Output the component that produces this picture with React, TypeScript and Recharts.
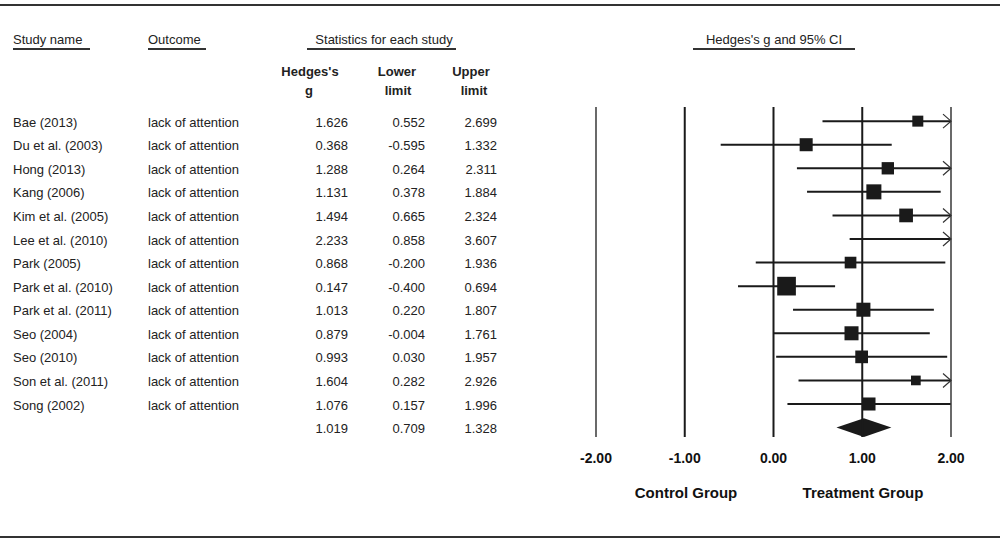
import React from "react";
import {
  ComposedChart,
  Scatter,
  XAxis,
  YAxis,
  ZAxis,
  ErrorBar,
  ReferenceLine,
  ReferenceArea,
} from "recharts";

const studyNames = [
  "Bae (2013)",
  "Du et al. (2003)",
  "Hong (2013)",
  "Kang (2006)",
  "Kim et al. (2005)",
  "Lee et al. (2010)",
  "Park (2005)",
  "Park et al. (2010)",
  "Park et al. (2011)",
  "Seo (2004)",
  "Seo (2010)",
  "Son et al. (2011)",
  "Song (2002)",
];
const outcomes = studyNames.map(() => "lack of attention");
const hedgesG = [1.626, 0.368, 1.288, 1.131, 1.494, 2.233, 0.868, 0.147, 1.013, 0.879, 0.993, 1.604, 1.076];
const lowerLimit = [0.552, -0.595, 0.264, 0.378, 0.665, 0.858, -0.2, -0.4, 0.22, -0.004, 0.03, 0.282, 0.157];
const upperLimit = [2.699, 1.332, 2.311, 1.884, 2.324, 3.607, 1.936, 0.694, 1.807, 1.761, 1.957, 2.926, 1.996];
// relative weights (%)
const weights = [5.4, 7.6, 6.8, 10.1, 8.4, 3.6, 6.1, 15.6, 8.8, 8.8, 7.2, 4.2, 7.6];
const summary = { g: 1.019, lower: 0.709, upper: 1.328 };
const xTicks = [-2, -1, 0, 1, 2];

const X_MAX = 2;
const FONT = "'Liberation Sans', Arial, sans-serif";
const INK = "#1a1a1a";

// CI bars stop at the edge of the plot; an arrow marks the ones that go on
const studyData = hedgesG.map((g, i) => ({
  x: g,
  y: i,
  w: weights[i],
  err: [g - lowerLimit[i], Math.min(upperLimit[i], X_MAX) - g],
}));

const arrowData = upperLimit
  .map((hi, i) => ({ x: X_MAX, y: i, hi }))
  .filter((d) => d.hi > X_MAX);

const tableData = [
  ...studyNames.map((name, i) => ({
    x: -2,
    y: i,
    name,
    outcome: outcomes[i],
    g: hedgesG[i],
    lo: lowerLimit[i],
    hi: upperLimit[i],
  })),
  { x: -2, y: studyNames.length, name: "", outcome: "", g: summary.g, lo: summary.lower, hi: summary.upper },
];

const fmt = (v: number) => v.toFixed(3);

const TableRow = (props: any) => {
  const { cy, payload } = props;
  const y = cy + 1;
  const common = { fontFamily: FONT, fontSize: 13, fill: "#222", dy: "0.35em" };
  return (
    <g>
      <text x={13} y={y} {...common}>{payload.name}</text>
      <text x={148} y={y} {...common}>{payload.outcome}</text>
      <text x={348} y={y} textAnchor="end" {...common}>{fmt(payload.g)}</text>
      <text x={425} y={y} textAnchor="end" {...common}>{fmt(payload.lo)}</text>
      <text x={497} y={y} textAnchor="end" {...common}>{fmt(payload.hi)}</text>
    </g>
  );
};

const Chevron = (props: any) => {
  const { cx, cy } = props;
  return (
    <polyline
      points={`${cx - 8},${cy - 7} ${cx},${cy} ${cx - 8},${cy + 7}`}
      fill="none"
      stroke="#333"
      strokeWidth={1.2}
    />
  );
};

const Diamond = (props: any) => {
  const { x, y, width, height } = props;
  const mx = x + width / 2;
  const my = y + height / 2;
  return (
    <polygon
      points={`${x},${my} ${mx},${y} ${x + width},${my} ${mx},${y + height}`}
      fill={INK}
    />
  );
};

const abs = (left: number, top: number, extra: React.CSSProperties = {}): React.CSSProperties => ({
  position: "absolute",
  left,
  top,
  fontFamily: FONT,
  fontSize: 13,
  lineHeight: "16px",
  color: "#222",
  whiteSpace: "nowrap",
  ...extra,
});

const centered = (cx: number, top: number, extra: React.CSSProperties = {}) =>
  abs(cx - 100, top, { width: 200, textAlign: "center", ...extra });

const hLine = (x1: number, x2: number, y: number, w: number, color = "#333"): React.CSSProperties => ({
  position: "absolute",
  left: x1,
  top: y - w / 2,
  width: x2 - x1,
  height: w,
  background: color,
});

export default function App() {
  return (
    <div style={{ position: "absolute", left: 0, top: 0, width: 1004, height: 549, background: "#fff" }}>
      <ComposedChart
        width={1004}
        height={549}
        margin={{ top: 107, right: 53, bottom: 82, left: 596 }}
      >
        <XAxis
          xAxisId="main"
          dataKey="x"
          type="number"
          domain={[-2, X_MAX]}
          ticks={xTicks}
          allowDataOverflow
          axisLine={false}
          tickLine={false}
          tickMargin={10}
          tickFormatter={(v: number) => v.toFixed(2)}
          tick={{ fontFamily: FONT, fontSize: 14, fontWeight: 700, fill: "#111" }}
        />
        <XAxis xAxisId="free" dataKey="x" type="number" domain={[-2, X_MAX]} height={0} hide />
        <YAxis dataKey="y" type="number" domain={[-0.6, 13.4]} reversed hide />
        <ZAxis dataKey="w" type="number" domain={[0, 16]} range={[0, 358]} />

        {xTicks.map((t) => (
          <ReferenceLine
            key={t}
            xAxisId="main"
            x={t}
            stroke={INK}
            strokeWidth={t === -2 || t === 2 ? 1.3 : 2}
          />
        ))}

        <Scatter
          xAxisId="main"
          data={studyData}
          shape="square"
          fill={INK}
          isAnimationActive={false}
        >
          <ErrorBar
            dataKey="err"
            direction="x"
            width={0}
            stroke={INK}
            strokeWidth={2}
            isAnimationActive={false}
          />
        </Scatter>

        <Scatter
          xAxisId="free"
          data={arrowData}
          shape={<Chevron />}
          isAnimationActive={false}
        />

        <ReferenceArea
          xAxisId="main"
          x1={summary.lower}
          x2={summary.upper}
          y1={12.6}
          y2={13.4}
          shape={<Diamond />}
        />

        <Scatter
          xAxisId="free"
          data={tableData}
          shape={<TableRow />}
          isAnimationActive={false}
        />
      </ComposedChart>

      {/* borders */}
      <div style={hLine(0, 1000, 5, 2.5)} />
      <div style={hLine(0, 1000, 537, 2.5)} />

      {/* column headers */}
      <div style={abs(13, 32)}>Study name</div>
      <div style={hLine(13, 90, 49, 1.5)} />
      <div style={abs(148, 32)}>Outcome</div>
      <div style={hLine(148, 206, 49, 1.5)} />
      <div style={centered(384, 32)}>Statistics for each study</div>
      <div style={hLine(307, 456, 49, 1.5)} />
      <div style={centered(774, 32)}>Hedges's g and 95% CI</div>
      <div style={hLine(693, 855, 49, 1.5)} />

      <div style={centered(310, 64, { fontWeight: 700 })}>Hedges's</div>
      <div style={centered(309, 83, { fontWeight: 700 })}>g</div>
      <div style={centered(397, 64, { fontWeight: 700 })}>Lower</div>
      <div style={centered(398, 83, { fontWeight: 700 })}>limit</div>
      <div style={centered(471, 64, { fontWeight: 700 })}>Upper</div>
      <div style={centered(474, 83, { fontWeight: 700 })}>limit</div>

      {/* favours labels */}
      <div style={centered(686, 484, { fontWeight: 700, fontSize: 15, lineHeight: "18px", color: "#111" })}>
        Control Group
      </div>
      <div style={centered(863, 484, { fontWeight: 700, fontSize: 15, lineHeight: "18px", color: "#111" })}>
        Treatment Group
      </div>
    </div>
  );
}
